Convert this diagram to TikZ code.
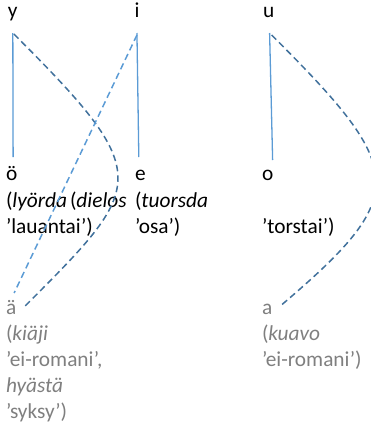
\documentclass[tikz,border=0pt]{standalone}
\usepackage{fontspec}
\setmainfont{Carlito}
\definecolor{lightblue}{HTML}{5B9BD5}
\definecolor{darkblue}{HTML}{41719C}
\definecolor{greytext}{HTML}{7F7F7F}
\begin{document}
\begin{tikzpicture}[x=1pt,y=-1pt,
  lbl/.style={anchor=base west,inner sep=0pt,outer sep=0pt,font=\fontsize{21.33pt}{26pt}\selectfont},
  glbl/.style={lbl,text=greytext},
  solidline/.style={lightblue,line width=1.3pt},
  darkdash/.style={darkblue,line width=1.5pt,dash pattern=on 6.5pt off 4pt},
  lightdash/.style={lightblue,line width=1.5pt,dash pattern=on 6.5pt off 4pt}]
\useasboundingbox (0,0) rectangle (370,426);
% top letters
\node[lbl] (y) at (8,17) {y};
\node[lbl] (i) at (134.5,17) {i};
\node[lbl] (u) at (263,17) {u};
% middle row
\node[lbl] (oe) at (6,180) {ö};
\node[lbl] (e) at (135,180) {e};
\node[lbl] (o) at (262,180) {o};
\node[lbl] (l1) at (6,207) {(\textit{lyörda}};
\node[lbl] (d1) at (70,207) {(\textit{dielos}};
\node[lbl] (t1) at (135,207) {(\textit{tuorsda}};
\node[lbl] (l2) at (6,233) {’lauantai’)};
\node[lbl] (t2) at (135,233) {’osa’)};
\node[lbl] (d2) at (262,233) {’torstai’)};
% bottom grey
\node[glbl] (ae) at (6,314) {ä};
\node[glbl] (k1) at (6,340) {(\textit{kiäji}};
\node[glbl] (k2) at (6,366) {’ei-romani’,};
\node[glbl] (h1) at (6,392) {\textit{hyästä}};
\node[glbl] (h2) at (6,418) {’syksy’)};
\node[glbl] (a) at (262,314) {a};
\node[glbl] (kv1) at (262,340) {(\textit{kuavo}};
\node[glbl] (kv2) at (262,366) {’ei-romani’)};
% solid connectors
\draw[solidline] ([yshift=-16pt]y.base) -- ([xshift=1.5pt,yshift=23pt]oe.base);
\draw[solidline] ([yshift=-16pt]i.base) -- ([xshift=-1.5pt,yshift=23pt]e.base);
\draw[solidline] ([xshift=1pt,yshift=-16pt]u.base) -- ([xshift=5pt,yshift=20pt]o.base);
% dashed connectors
\draw[darkdash] ([xshift=1pt,yshift=-17pt]y.base) .. controls (156,176) and (146,185) .. ([xshift=13pt,yshift=7pt]ae.base);
\draw[lightdash] ([yshift=-18pt]i.base) -- ([xshift=3pt,yshift=21pt]ae.base);
\draw[darkdash] ([xshift=3pt,yshift=-18pt]u.base) .. controls (408,171) and (411,195) .. ([xshift=12pt,yshift=7pt]a.base);
\end{tikzpicture}
\end{document}
